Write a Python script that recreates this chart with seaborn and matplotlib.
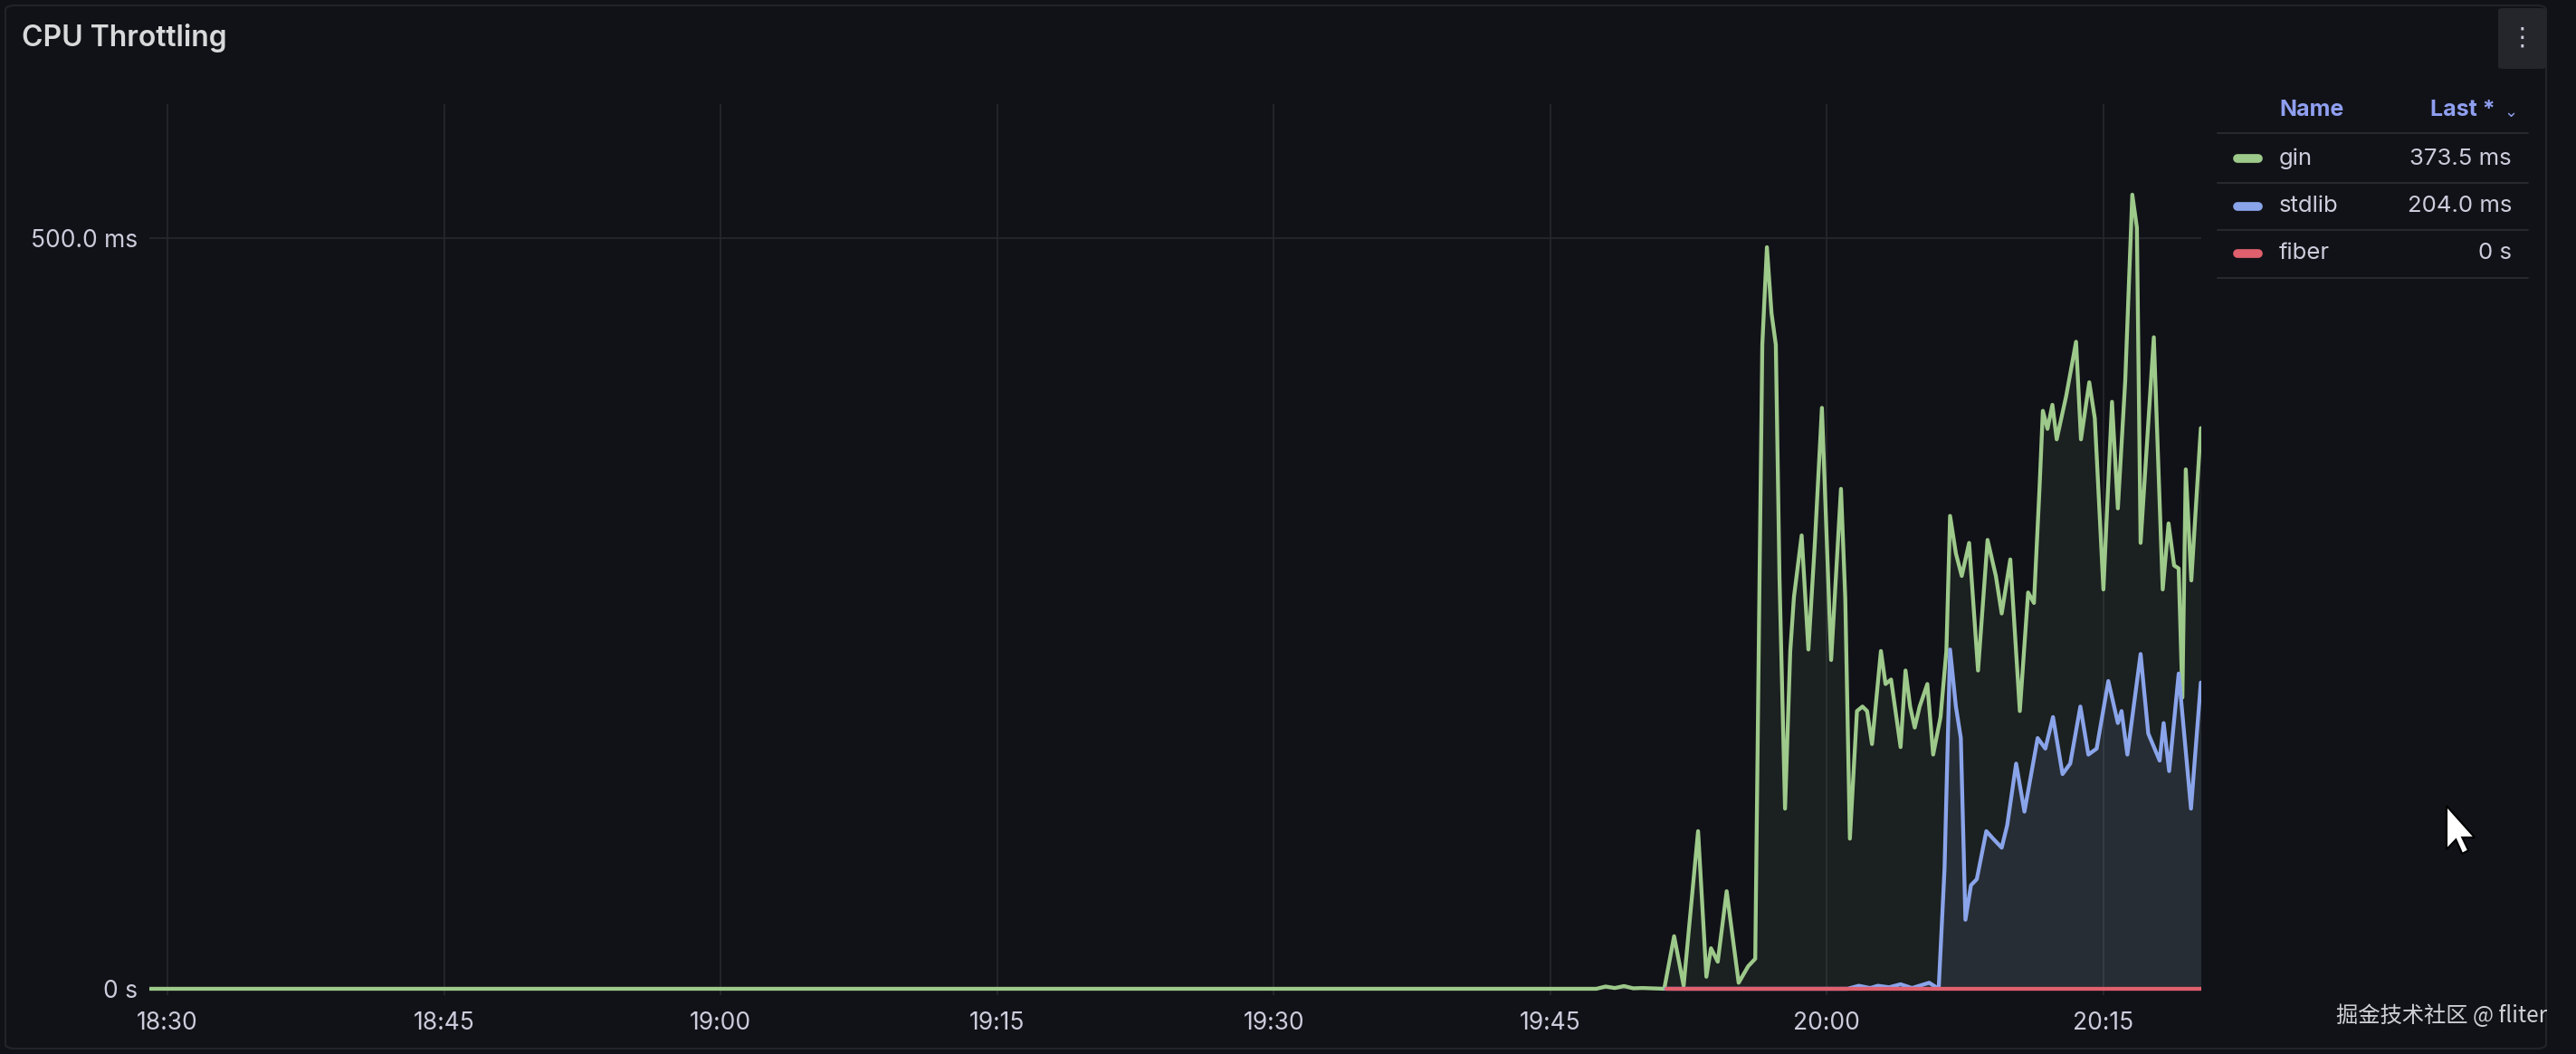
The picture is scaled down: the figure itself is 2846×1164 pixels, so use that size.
import matplotlib
matplotlib.use("Agg")
import matplotlib.pyplot as plt
from matplotlib.lines import Line2D
from matplotlib.patches import FancyBboxPatch, Polygon
import pandas as pd
import seaborn as sns

# ---- data ----
gin_times = [
    "18:29:00", "19:47:30", "19:48:00", "19:48:30", "19:49:00", "19:49:30", "19:50:00", "19:51:11",
    "19:51:43", "19:52:14", "19:53:01", "19:53:28", "19:53:43", "19:54:05", "19:54:34", "19:55:13",
    "19:55:44", "19:56:07", "19:56:21", "19:56:30", "19:56:45", "19:57:00", "19:57:14", "19:57:26",
    "19:57:44", "19:58:01", "19:58:13", "19:58:38", "19:59:00", "19:59:21", "19:59:44", "20:00:14",
    "20:00:46", "20:01:00", "20:01:15", "20:01:38", "20:01:56", "20:02:11", "20:02:27", "20:02:56",
    "20:03:11", "20:03:29", "20:04:00", "20:04:16", "20:04:31", "20:04:46", "20:05:02", "20:05:27",
    "20:05:46", "20:06:10", "20:06:29", "20:06:41", "20:07:00", "20:07:19", "20:07:43", "20:08:12",
    "20:08:43", "20:09:10", "20:09:29", "20:09:57", "20:10:28", "20:10:55", "20:11:14", "20:11:32",
    "20:11:43", "20:11:58", "20:12:14", "20:12:28", "20:12:59", "20:13:31", "20:13:47", "20:14:14",
    "20:14:32", "20:15:00", "20:15:28", "20:15:47", "20:16:11", "20:16:34", "20:16:49", "20:17:01",
    "20:17:44", "20:18:13", "20:18:32", "20:18:50", "20:19:05", "20:19:17", "20:19:28", "20:19:46",
    "20:20:17",
]
gin_ms = [
    0, 0, 1.5, 0.5, 1.8, 0.3, 0.5, 0,
    35, 2, 105, 8, 27, 18, 65, 4,
    15, 20, 273, 429, 494, 450, 429, 273,
    120, 225, 261, 302, 226, 297, 387, 219,
    333, 260, 100, 185, 188, 185, 163, 225,
    203, 206, 161, 212, 188, 174, 188, 203,
    156, 181, 225, 315, 290, 275, 297, 212,
    299, 275, 250, 286, 185, 264, 257, 333,
    385, 373, 389, 366, 395, 431, 366, 404,
    380, 266, 391, 320, 405, 529, 507, 297,
    434, 266, 310, 282, 280, 194, 346, 272,
    373.5,
]

stdlib_times = [
    "19:51:15", "20:01:07", "20:01:44", "20:02:21", "20:02:46", "20:03:23", "20:04:00", "20:04:37",
    "20:05:33", "20:06:04", "20:06:23", "20:06:41", "20:07:00", "20:07:16", "20:07:31", "20:07:49",
    "20:08:08", "20:08:39", "20:09:01", "20:09:29", "20:09:47", "20:10:16", "20:10:43", "20:11:26",
    "20:11:51", "20:12:16", "20:12:47", "20:13:12", "20:13:45", "20:14:11", "20:14:38", "20:15:16",
    "20:15:47", "20:15:59", "20:16:18", "20:17:01", "20:17:26", "20:18:03", "20:18:16", "20:18:34",
    "20:19:05", "20:19:45", "20:20:17",
]
stdlib_ms = [
    0, 0, 2, 0.5, 2, 1, 3, 0.5,
    4, 0, 80, 226, 188, 167, 46, 69,
    73, 105, 100, 94, 109, 150, 118, 167,
    160, 181, 143, 150, 188, 156, 160, 205,
    177, 185, 156, 223, 170, 152, 177, 145,
    210, 120, 204,
]

fiber_times = ["19:51:18", "20:20:17"]
fiber_ms = [0, 0]

series_names = ["gin", "stdlib", "fiber"]
series_colors = ["#9dc98a", "#8aa4ea", "#e0606e"]
legend_last = ["373.5 ms", "204.0 ms", "0 s"]

xtick_labels = ["18:30", "18:45", "19:00", "19:15", "19:30", "19:45", "20:00", "20:15"]
ytick_values = [0, 500]
ytick_labels = ["0 s", "500.0 ms"]

DAY = "2024-01-01 "


def to_dt(values):
    return pd.to_datetime([DAY + v for v in values])


frames = []
for name, times, vals in zip(series_names, [gin_times, stdlib_times, fiber_times], [gin_ms, stdlib_ms, fiber_ms]):
    frames.append(pd.DataFrame({"time": to_dt(times), "ms": vals, "series": name}))
df = pd.concat(frames, ignore_index=True)
palette = dict(zip(series_names, series_colors))

# ---- figure / layout ----
W, H = 2846, 1164
BG = "#111217"
TXT = "#ccccdc"
GRID = "#26282d"

sns.set_theme(style="dark")
plt.rcParams["font.family"] = ["Inter", "DejaVu Sans"]

fig = plt.figure(figsize=(W / 100, H / 100), dpi=100, facecolor=BG)


def fx(x):
    return x / W


def fy(y):
    return 1 - y / H


ax = fig.add_axes([fx(164.6), fy(1098.6), fx(2431.5) - fx(164.6), fy(115) - fy(1098.6)])
ax.set_facecolor(BG)

# area fills under gin and stdlib
for name, alpha in [("gin", 0.08), ("stdlib", 0.10)]:
    sub = df[df["series"] == name]
    ax.fill_between(sub["time"], sub["ms"], 0, color=palette[name], alpha=alpha, lw=0, zorder=1)

sns.lineplot(data=df, x="time", y="ms", hue="series", hue_order=series_names, palette=palette,
             estimator=None, sort=False, legend=False, linewidth=3.1, ax=ax, zorder=3)
for ln in ax.get_lines():
    ln.set_solid_joinstyle("round")
    ln.set_solid_capstyle("round")

ax.set_xlim(pd.Timestamp(DAY + "18:29:00"), pd.Timestamp(DAY + "20:20:17"))
ax.set_ylim(-4, 589.3)

xticks = to_dt([t + ":00" for t in xtick_labels])
ax.set_xticks(xticks)
ax.set_xticklabels(xtick_labels)
ax.set_yticks(ytick_values)
ax.set_yticklabels(ytick_labels)
ax.tick_params(axis="both", length=0, colors=TXT, labelsize=19)
ax.tick_params(axis="x", pad=13)
ax.tick_params(axis="y", pad=9)
ax.set_xlabel("")
ax.set_ylabel("")
ax.grid(True, color=GRID, linewidth=1.2)
for s in ax.spines.values():
    s.set_visible(False)

# ---- panel chrome ----
fig.add_artist(FancyBboxPatch((fx(6), fy(1158)), fx(2813) - fx(6), fy(6) - fy(1158),
                              boxstyle="round,pad=0,rounding_size=0.004", transform=fig.transFigure,
                              facecolor="none", edgecolor="#222429", lw=1.5, zorder=0))
fig.text(fx(24), fy(42), "CPU Throttling", fontsize=23, weight="semibold", color="#d8d9da",
         ha="left", va="center")
fig.add_artist(FancyBboxPatch((fx(2760), fy(76)), fx(2813) - fx(2760), fy(9) - fy(76),
                              boxstyle="round,pad=0,rounding_size=0.002", transform=fig.transFigure,
                              facecolor="#24262c", edgecolor="none"))
fig.text(fx(2786), fy(42), "⋮", fontsize=20, color=TXT, ha="center", va="center",
         family=["DejaVu Sans"])

# ---- legend table ----
HEAD = "#8f9ff0"
fig.text(fx(2518), fy(122), "Name", fontsize=18, weight="bold", color=HEAD, ha="left", va="center")
fig.text(fx(2757), fy(122), "Last *", fontsize=18, weight="bold", color=HEAD, ha="right", va="center")
fig.text(fx(2774), fy(124), "⌄", fontsize=13, color=HEAD, ha="center", va="center", family=["DejaVu Sans"])
for ysep in [147, 202, 254, 307]:
    fig.add_artist(Line2D([fx(2450), fx(2793)], [fy(ysep), fy(ysep)], color="#2a2c31", lw=1.3,
                          transform=fig.transFigure))
for i, (name, col, last) in enumerate(zip(series_names, series_colors, legend_last)):
    yrow = [175, 228, 280][i]
    fig.add_artist(Line2D([fx(2472), fx(2495)], [fy(yrow), fy(yrow)], color=col, lw=7,
                          solid_capstyle="round", transform=fig.transFigure))
    fig.text(fx(2518), fy(yrow), name, fontsize=18.5, color=TXT, ha="left", va="center")
    fig.text(fx(2775), fy(yrow), last, fontsize=18.5, color=TXT, ha="right", va="center")

# watermark
fig.text(fx(2814), fy(1122), "掘金技术社区 @ fliter", fontsize=17.5, color="#d0d0d4", ha="right", va="center",
         family=["Noto Sans CJK SC", "DejaVu Sans"])

# mouse cursor
cur = [(0, 0), (0, 40), (9, 31), (15, 44), (21, 41), (15, 29), (27, 29)]
pts = [(fx(2703 + 1.15 * cx), fy(890 + 1.2 * cy)) for cx, cy in cur]
fig.add_artist(Polygon(pts, closed=True, facecolor="white", edgecolor="black", lw=1.5,
                       transform=fig.transFigure))

fig.savefig("out.png", dpi=100, facecolor=BG)
